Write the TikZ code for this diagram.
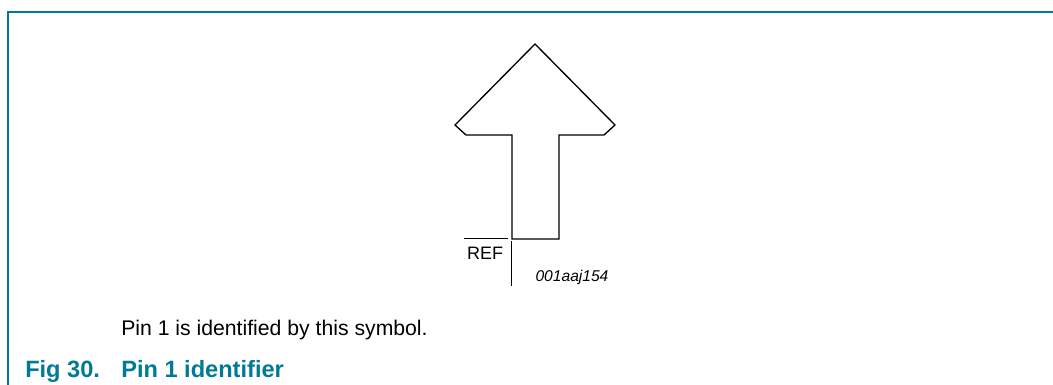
\documentclass[tikz,border=0pt]{standalone}
\usepackage{fontspec}
\setmainfont{Liberation Sans}
\definecolor{figteal}{RGB}{0,122,150}
\begin{document}
\begin{tikzpicture}[x=0.75pt,y=0.75pt,yscale=-1,xscale=1]
	\useasboundingbox (0,0) rectangle (1053,385);

	% Frame
	\draw [color=figteal, line width=0.9pt]  (8,385) -- (8,12) -- (1053,12) ;

	% Arrow symbol
	\draw [line width=1pt]  (535,44) -- (615,125) -- (604,135) -- (559,135) -- (559,239) -- (512,239) -- (512,135) -- (466,135) -- (455,125) -- cycle ;

	% Reference lines
	\draw [line width=0.5pt]  (464,238.5) -- (508,238.5) ;
	\draw [line width=0.5pt]  (511,241) -- (511,286) ;

	% Text Node
	\node (ref) at (485,259.5) [anchor=base, inner sep=0pt, font=\fontsize{13.5}{15}\selectfont] {REF};
	% Text Node
	\node (code) at (572,281) [anchor=base, inner sep=0pt, font=\fontsize{11.7}{13}\selectfont\itshape] {001aaj154};
	% Text Node
	\node (note) at (121,335) [anchor=base west, inner sep=0pt, font=\fontsize{15.9}{18}\selectfont] {Pin 1 is identified by this symbol.};
	% Text Node
	\node (fignum) at (25,377) [anchor=base west, inner sep=0pt, text=figteal, font=\fontsize{17.7}{20}\selectfont\bfseries] {Fig 30.};
	\node (figtitle) at (121,377) [anchor=base west, inner sep=0pt, text=figteal, font=\fontsize{17.7}{20}\selectfont\bfseries] {Pin 1 identifier};
\end{tikzpicture}
\end{document}
